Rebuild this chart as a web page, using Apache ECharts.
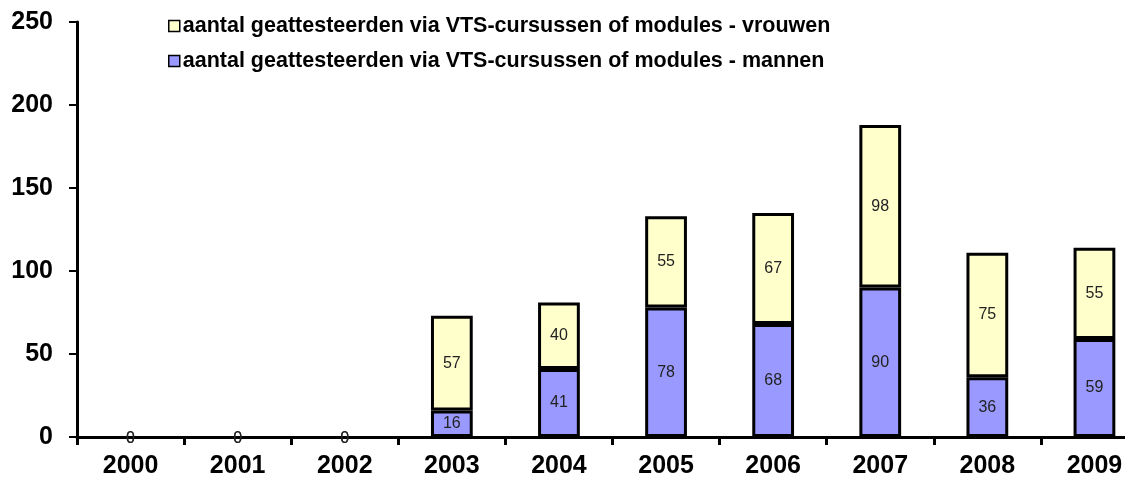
<!DOCTYPE html>
<html>
<head>
<meta charset="utf-8">
<style>
  html, body { margin: 0; padding: 0; background: #ffffff; overflow: hidden; }
  /* the plot area runs slightly past the right edge of the window */
  #chart { width: 1148px; height: 489px; }
</style>
<script src="https://cdn.jsdelivr.net/npm/echarts@6/dist/echarts.min.js"></script>
</head>
<body>
<div id="chart"></div>
<script>
// Years on the category axis
const years = ['2000', '2001', '2002', '2003', '2004', '2005', '2006', '2007', '2008', '2009'];
// Certified participants through VTS courses or modules
const mannen = [0, 0, 0, 16, 41, 78, 68, 90, 36, 59];
const vrouwen = [0, 0, 0, 57, 40, 55, 67, 98, 75, 55];
// Value-axis ticks
const yTicks = [0, 50, 100, 150, 200, 250];

const nameVrouwen = 'aantal geattesteerden via VTS-cursussen of modules - vrouwen';
const nameMannen = 'aantal geattesteerden via VTS-cursussen of modules - mannen';

const labelStyle = {
  show: true,
  position: 'inside',
  color: '#222222',
  fontFamily: 'Liberation Sans, Arial, sans-serif',
  fontSize: 16,
  formatter: p => String(p.value)
};

// Zero-height stacks: drop the border so only the value label remains
function withZeroStyle(values) {
  return values.map(v => v === 0
    ? { value: v, itemStyle: { borderWidth: 0 }, label: { offset: [0, 2] } }
    : v);
}

const chart = echarts.init(document.getElementById('chart'), null, { renderer: 'canvas' });

chart.setOption({
  animation: false,
  backgroundColor: '#ffffff',
  grid: { left: 77, right: 0, top: 22, bottom: 52, containLabel: false },
  legend: {
    orient: 'vertical',
    left: 163,
    top: 10,
    itemGap: 13,
    itemWidth: 11,
    itemHeight: 11,
    icon: 'rect',
    data: [nameVrouwen, nameMannen],
    itemStyle: { borderColor: '#000000', borderWidth: 1.5 },
    textStyle: {
      fontFamily: 'Liberation Sans, Arial, sans-serif',
      fontWeight: 'bold',
      fontSize: 21.5,
      color: '#000000',
      padding: [0, 0, 0, -2]
    }
  },
  xAxis: {
    type: 'category',
    data: years,
    boundaryGap: true,
    axisLine: { lineStyle: { color: '#000000', width: 3 } },
    axisTick: { show: true, inside: false, length: 8, alignWithLabel: false, lineStyle: { color: '#000000', width: 3 } },
    axisLabel: {
      color: '#000000',
      fontFamily: 'Liberation Sans, Arial, sans-serif',
      fontWeight: 'bold',
      fontSize: 25,
      margin: 17
    },
    splitLine: { show: false }
  },
  yAxis: {
    type: 'value',
    min: yTicks[0],
    max: yTicks[yTicks.length - 1],
    interval: yTicks[1] - yTicks[0],
    axisLine: { show: true, lineStyle: { color: '#000000', width: 3 } },
    axisTick: { show: true, length: 8, lineStyle: { color: '#000000', width: 2 } },
    axisLabel: {
      color: '#000000',
      fontFamily: 'Liberation Sans, Arial, sans-serif',
      fontWeight: 'bold',
      fontSize: 25,
      margin: 24
    },
    splitLine: { show: false }
  },
  series: [
    {
      name: nameMannen,
      type: 'bar',
      stack: 'total',
      barWidth: '39%',
      data: withZeroStyle(mannen),
      itemStyle: { color: '#9999FF', borderColor: '#000000', borderWidth: 3 },
      label: labelStyle
    },
    {
      name: nameVrouwen,
      type: 'bar',
      stack: 'total',
      barWidth: '39%',
      data: withZeroStyle(vrouwen),
      itemStyle: { color: '#FFFFCC', borderColor: '#000000', borderWidth: 3 },
      label: labelStyle
    }
  ]
});
</script>
</body>
</html>
